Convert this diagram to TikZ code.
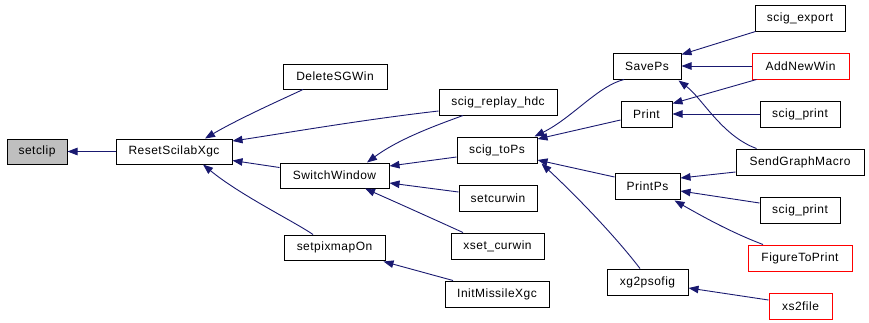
\documentclass[tikz,border=0pt]{standalone}
\usepackage{fontspec}
\setmainfont[LetterSpace=4]{Liberation Sans}
\usetikzlibrary{arrows.meta}
\definecolor{edgeblue}{RGB}{25,25,112}
\definecolor{boxgray}{RGB}{191,191,191}
\begin{document}
\begin{tikzpicture}[x=1pt,y=-1pt,
  box/.style={draw=black, line width=1pt, inner sep=0pt, minimum height=26pt,
    font=\fontsize{12}{14}\selectfont, fill=white},
  redbox/.style={box, draw=red},
  graybox/.style={box, fill=boxgray},
  arr/.style={draw=edgeblue, line width=0.9pt,
    -{Triangle[length=10pt,width=7.5pt,fill=edgeblue]}}
]
\useasboundingbox (0,0) rectangle (869,322);

% nodes
\node[graybox, minimum width=60pt, minimum height=25pt] (setclip) at (37,151.5) {setclip};
\node[box, minimum width=116pt, minimum height=25pt] (reset) at (174,151.5) {ResetScilabXgc};
\node[box, minimum width=104pt, minimum height=25pt] (del) at (335,76.5) {DeleteSGWin};
\node[box, minimum width=118pt] (replay) at (498,102) {scig\_replay\_hdc};
\node[box, minimum width=80pt] (tops) at (497,150) {scig\_toPs};
\node[box, minimum width=109pt, minimum height=25pt] (switch) at (334.5,175.5) {SwitchWindow};
\node[box, minimum width=78pt] (setcur) at (498,198) {setcurwin};
\node[box, minimum width=101pt, minimum height=25pt] (pixmap) at (334.5,247.5) {setpixmapOn};
\node[box, minimum width=93pt] (xsetcur) at (497.5,246) {xset\_curwin};
\node[box, minimum width=104pt] (initm) at (497,294) {InitMissileXgc};
\node[box, minimum width=90pt] (export) at (800,18) {scig\_export};
\node[box, minimum width=68pt] (saveps) at (647,66) {SavePs};
\node[redbox, minimum width=97pt] (addnew) at (800.5,66) {AddNewWin};
\node[box, minimum width=51pt] (print) at (646.5,114) {Print};
\node[box, minimum width=80pt] (sprinta) at (800,114) {scig\_print};
\node[box, minimum width=128pt] (sendgm) at (800,162) {SendGraphMacro};
\node[box, minimum width=65pt] (printps) at (647.5,186) {PrintPs};
\node[box, minimum width=80pt] (sprintb) at (800,210) {scig\_print};
\node[redbox, minimum width=104pt] (fig) at (800,258) {FigureToPrint};
\node[box, minimum width=81pt] (xgps) at (647.5,282) {xg2psofig};
\node[redbox, minimum width=63pt] (xsfile) at (800.5,306) {xs2file};

% edges
\draw[arr] (reset.west) -- (setclip.east);
\draw[arr] ([shift={(-32,0)}]del.south) .. controls (285,98) and (240,118) .. ([shift={(31,0)}]reset.north);
\draw[arr] ([shift={(0,9)}]replay.west) .. controls (360,120) and (280,134) .. ([shift={(0,-10.5)}]reset.east);
\draw[arr] ([shift={(0,-8)}]switch.west) -- ([shift={(0,9)}]reset.east);
\draw[arr] ([shift={(-21.5,0)}]pixmap.north) .. controls (295,222) and (240,195) .. ([shift={(29,0)}]reset.south);
\draw[arr] ([shift={(-35,0)}]replay.south) .. controls (440,124) and (400,138) .. ([shift={(32.5,0)}]switch.north);
\draw[arr] ([shift={(0,7)}]tops.west) -- ([shift={(0,-9.5)}]switch.east);
\draw[arr] ([shift={(0,-6)}]setcur.west) -- ([shift={(0,7.5)}]switch.east);
\draw[arr] ([shift={(-34.5,0)}]xsetcur.north) .. controls (440,222) and (400,204) .. ([shift={(30.5,0)}]switch.south);
\draw[arr] ([shift={(-44,0)}]initm.north) -- ([shift={(-2,1)}]pixmap.south east);

\draw[arr] ([shift={(-23,0)}]saveps.south) .. controls (598,86) and (572,118) .. ([shift={(-3,0)}]tops.north east);
\draw[arr] ([shift={(0,6)}]print.west) -- ([shift={(0,-11)}]tops.east);
\draw[arr] ([shift={(0,-9)}]printps.west) -- ([shift={(0,10)}]tops.east);
\draw[arr] ([shift={(-7.5,0)}]xgps.north) .. controls (612,232) and (570,190) .. ([shift={(4,0)}]tops.south east);

\draw[arr] ([shift={(1,0)}]export.south west) -- ([shift={(0,2)}]saveps.north east);
\draw[arr] (addnew.west) -- (saveps.east);
\draw[arr] ([shift={(21,0)}]sendgm.north west) .. controls (722,136) and (702,98) .. ([shift={(-3,1)}]saveps.south east);
\draw[arr] ([shift={(5,0)}]addnew.south west) -- ([shift={(0,3)}]print.north east);
\draw[arr] (sprinta.west) -- (print.east);
\draw[arr] ([shift={(0,10)}]sendgm.west) -- ([shift={(0,-8)}]printps.east);
\draw[arr] ([shift={(0,-7)}]sprintb.west) -- ([shift={(0,5)}]printps.east);
\draw[arr] ([shift={(-37,0)}]fig.north) .. controls (730,232) and (700,215) .. ([shift={(-6,1)}]printps.south east);
\draw[arr] ([shift={(0,-6)}]xsfile.west) -- ([shift={(0,6)}]xgps.east);
\end{tikzpicture}
\end{document}
